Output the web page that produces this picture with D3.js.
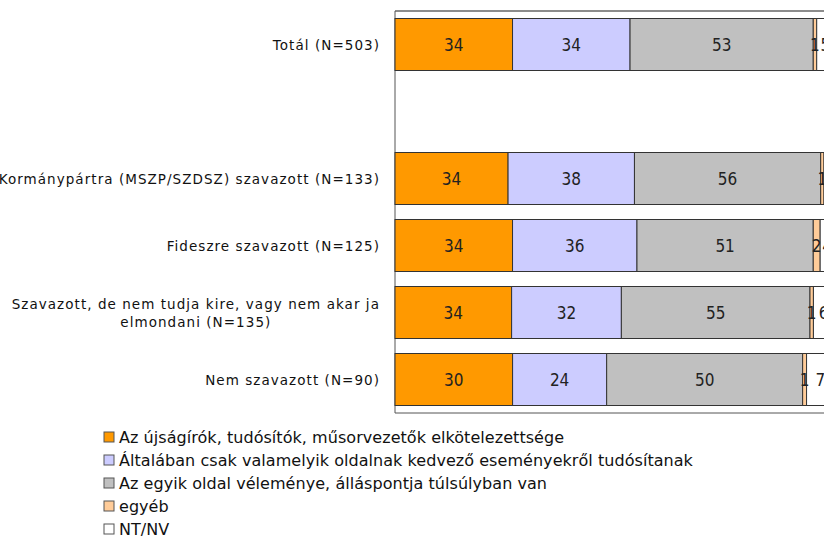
<!DOCTYPE html>
<html>
<head>
<meta charset="utf-8">
<script src="https://cdn.jsdelivr.net/npm/d3@7"></script>
<style>
  body { margin: 0; background: #fff; }
  svg { display: block; }
  .cat-label { font-family: "DejaVu Sans", sans-serif; font-size: 13.5px; letter-spacing: 1.05px; fill: #111; }
  .val-label { font-family: "DejaVu Sans Condensed", "DejaVu Sans", sans-serif; font-size: 17px; fill: #222; }
  .leg-label { font-family: "DejaVu Sans", sans-serif; font-size: 16px; letter-spacing: 0.05px; fill: #111; }
</style>
</head>
<body>
<svg id="chart" width="824" height="540"></svg>
<script>
// Kategóriák (az üres sor a Totál utáni hézag)
const rowIds = ["total", "blank", "korm", "fidesz", "szav", "nem"];
const rowLabels = [
  ["Totál (N=503)"],
  [],
  ["Kormánypártra (MSZP/SZDSZ) szavazott (N=133)"],
  ["Fideszre szavazott (N=125)"],
  ["Szavazott, de nem tudja kire, vagy nem akar ja", "elmondani (N=135)"],
  ["Nem szavazott (N=90)"]
];

// Sorozatok (%)
const ujsagirok  = [34, 0, 34, 34, 34, 30];
const altalaban  = [34, 0, 38, 36, 32, 24];
const egyikOldal = [53, 0, 56, 51, 55, 50];
const egyeb      = [1, 0, 1, 2, 1, 1];
const ntnv       = [5, 0, 3, 4, 6, 7];

const seriesNames = [
  "Az újságírók, tudósítók, műsorvezetők elkötelezettsége",
  "Általában csak valamelyik oldalnak kedvező eseményekről tudósítanak",
  "Az egyik oldal véleménye, álláspontja túlsúlyban van",
  "egyéb",
  "NT/NV"
];
const seriesColors = ["#ff9900", "#ccccff", "#c0c0c0", "#ffcc99", "#ffffff"];
const seriesValues = [ujsagirok, altalaban, egyikOldal, egyeb, ntnv];

const svg = d3.select("#chart");

const plotLeft = 395, plotRight = 834, plotTop = 11, plotBottom = 413;

const rows = rowIds.map((id, i) => {
  const r = { id: id };
  seriesNames.forEach((s, j) => { r[s] = seriesValues[j][i]; });
  return r;
});

const stack = d3.stack().keys(seriesNames).offset(d3.stackOffsetExpand);
const stacked = stack(rows);

const x = d3.scaleLinear().domain([0, 1]).range([plotLeft, plotRight]);
const y = d3.scaleBand().domain(rowIds).range([plotTop, plotBottom])
  .paddingInner(15 / 67).paddingOuter(7.5 / 67);

// Keret
svg.append("line")
  .attr("x1", plotLeft).attr("x2", plotRight)
  .attr("y1", plotTop).attr("y2", plotTop)
  .attr("stroke", "#8c8c8c").attr("stroke-width", 2);
svg.append("line")
  .attr("x1", plotLeft).attr("x2", plotLeft)
  .attr("y1", plotTop).attr("y2", plotBottom)
  .attr("stroke", "#555").attr("stroke-width", 1);
svg.append("line")
  .attr("x1", plotLeft).attr("x2", plotRight)
  .attr("y1", plotBottom).attr("y2", plotBottom)
  .attr("stroke", "#555").attr("stroke-width", 1);

// Sávok
const layers = svg.append("g").selectAll("g")
  .data(stacked)
  .enter().append("g")
  .attr("fill", (d, i) => seriesColors[i]);

layers.selectAll("rect")
  .data(d => d.filter(p => p.data.id !== "blank"))
  .enter().append("rect")
  .attr("x", d => x(d[0]))
  .attr("y", d => y(d.data.id))
  .attr("width", d => x(d[1]) - x(d[0]))
  .attr("height", y.bandwidth())
  .attr("stroke", "#333")
  .attr("stroke-width", 1);

// Értékcímkék
stacked.forEach((layer, i) => {
  svg.append("g").selectAll("text")
    .data(layer.filter(p => p.data.id !== "blank"))
    .enter().append("text")
    .attr("class", "val-label")
    .attr("x", d => (x(d[0]) + x(d[1])) / 2)
    .attr("y", d => y(d.data.id) + y.bandwidth() / 2)
    .attr("text-anchor", "middle")
    .attr("dominant-baseline", "central")
    .text(d => d.data[layer.key]);
});

// Kategóriacímkék
const labelRight = 380;
rowIds.forEach((id, i) => {
  const lines = rowLabels[i];
  if (!lines.length) return;
  const cy = y(id) + y.bandwidth() / 2;
  if (lines.length === 1) {
    svg.append("text").attr("class", "cat-label")
      .attr("x", labelRight).attr("y", cy)
      .attr("text-anchor", "end").attr("dominant-baseline", "central")
      .text(lines[0]);
  } else {
    const t = svg.append("text").attr("class", "cat-label")
      .attr("text-anchor", "middle").attr("dominant-baseline", "central");
    t.append("tspan").text(lines[0]);
    const w = t.select("tspan").node().getComputedTextLength();
    const cx = labelRight - w / 2;
    t.select("tspan").attr("x", cx).attr("y", cy - 9);
    t.append("tspan").attr("x", cx).attr("y", cy + 9).text(lines[1]);
  }
});

// Jelmagyarázat
const legY = d3.scalePoint().domain(seriesNames).range([437, 529]);
const leg = svg.append("g").selectAll("g")
  .data(seriesNames)
  .enter().append("g")
  .attr("transform", d => `translate(104,${legY(d)})`);

leg.append("rect")
  .attr("x", 0).attr("y", -5)
  .attr("width", 10).attr("height", 10)
  .attr("fill", (d, i) => seriesColors[i])
  .attr("stroke", "#555").attr("stroke-width", 1);

leg.append("text")
  .attr("class", "leg-label")
  .attr("x", 15).attr("y", 0)
  .attr("dominant-baseline", "central")
  .text(d => d);
</script>
</body>
</html>
